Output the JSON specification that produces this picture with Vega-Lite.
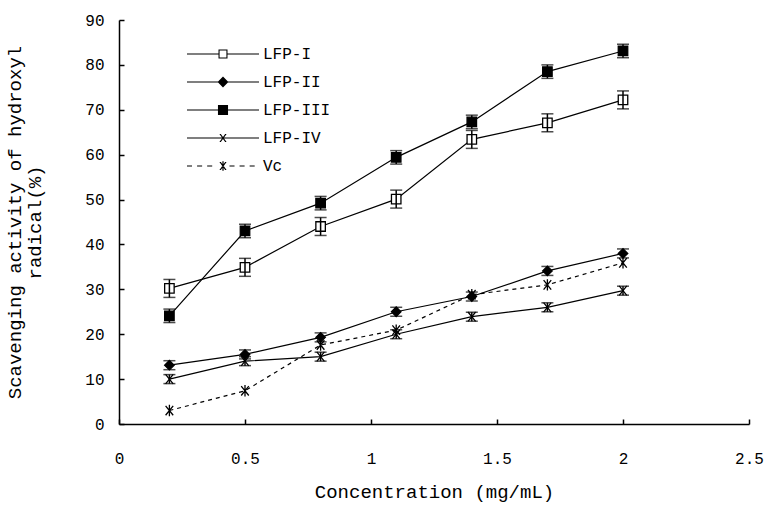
{
  "$schema": "https://vega.github.io/schema/vega-lite/v6.json",
  "width": 630,
  "height": 404,
  "autosize": {"type": "none"},
  "padding": {"left": 119, "top": 20, "right": 30, "bottom": 93},
  "background": "white",
  "config": {
    "view": {"stroke": null},
    "font": "Liberation Mono",
    "axis": {
      "grid": false,
      "domainColor": "black",
      "domainWidth": 1.5,
      "tickColor": "black",
      "tickWidth": 1.5,
      "tickSize": -5,
      "labelColor": "black",
      "labelFont": "Liberation Mono",
      "labelFontSize": 16,
      "labelFlush": false,
      "labelOverlap": false,
      "titleColor": "black",
      "titleFont": "Liberation Mono",
      "titleFontSize": 19,
      "titleFontWeight": "normal"
    }
  },
  "data": {
    "values": [
      {"series": "LFP-I", "conc": 0.2, "value": 30.2, "err": 2},
      {"series": "LFP-I", "conc": 0.5, "value": 34.9, "err": 2},
      {"series": "LFP-I", "conc": 0.8, "value": 44.0, "err": 2},
      {"series": "LFP-I", "conc": 1.1, "value": 50.1, "err": 2},
      {"series": "LFP-I", "conc": 1.4, "value": 63.4, "err": 2},
      {"series": "LFP-I", "conc": 1.7, "value": 67.1, "err": 2},
      {"series": "LFP-I", "conc": 2.0, "value": 72.2, "err": 2},
      {"series": "LFP-II", "conc": 0.2, "value": 13.1, "err": 1},
      {"series": "LFP-II", "conc": 0.5, "value": 15.5, "err": 1},
      {"series": "LFP-II", "conc": 0.8, "value": 19.3, "err": 1},
      {"series": "LFP-II", "conc": 1.1, "value": 25.0, "err": 1},
      {"series": "LFP-II", "conc": 1.4, "value": 28.4, "err": 1},
      {"series": "LFP-II", "conc": 1.7, "value": 34.1, "err": 1},
      {"series": "LFP-II", "conc": 2.0, "value": 38.0, "err": 1},
      {"series": "LFP-III", "conc": 0.2, "value": 24.1, "err": 1.5},
      {"series": "LFP-III", "conc": 0.5, "value": 43.0, "err": 1.5},
      {"series": "LFP-III", "conc": 0.8, "value": 49.2, "err": 1.5},
      {"series": "LFP-III", "conc": 1.1, "value": 59.4, "err": 1.5},
      {"series": "LFP-III", "conc": 1.4, "value": 67.3, "err": 1.5},
      {"series": "LFP-III", "conc": 1.7, "value": 78.5, "err": 1.5},
      {"series": "LFP-III", "conc": 2.0, "value": 83.1, "err": 1.5},
      {"series": "LFP-IV", "conc": 0.2, "value": 10.0, "err": 1},
      {"series": "LFP-IV", "conc": 0.5, "value": 14.0, "err": 1},
      {"series": "LFP-IV", "conc": 0.8, "value": 15.0, "err": 1},
      {"series": "LFP-IV", "conc": 1.1, "value": 20.0, "err": 1},
      {"series": "LFP-IV", "conc": 1.4, "value": 23.9, "err": 1},
      {"series": "LFP-IV", "conc": 1.7, "value": 26.0, "err": 1},
      {"series": "LFP-IV", "conc": 2.0, "value": 29.7, "err": 1},
      {"series": "Vc", "conc": 0.2, "value": 3.0, "err": 0},
      {"series": "Vc", "conc": 0.5, "value": 7.4, "err": 0},
      {"series": "Vc", "conc": 0.8, "value": 17.6, "err": 0},
      {"series": "Vc", "conc": 1.1, "value": 20.9, "err": 0},
      {"series": "Vc", "conc": 1.4, "value": 28.8, "err": 0},
      {"series": "Vc", "conc": 1.7, "value": 31.0, "err": 0},
      {"series": "Vc", "conc": 2.0, "value": 35.9, "err": 0}
    ]
  },
  "encoding": {
    "x": {
      "field": "conc",
      "type": "quantitative",
      "scale": {"domain": [0, 2.5], "nice": false, "zero": false},
      "axis": {
        "values": [0, 0.5, 1, 1.5, 2, 2.5],
        "format": "~g",
        "labelPadding": 31,
        "title": "Concentration (mg/mL)",
        "titlePadding": 16
      }
    },
    "y": {
      "field": "value",
      "type": "quantitative",
      "scale": {"domain": [0, 90], "nice": false},
      "axis": {
        "values": [0, 10, 20, 30, 40, 50, 60, 70, 80, 90],
        "labelPadding": 20,
        "title": ["Scavenging activity of hydroxyl", "radical(%)"],
        "titlePadding": 40,
        "titleLineHeight": 20
      }
    }
  },
  "resolve": {"scale": {"shape": "independent"}},
  "layer": [
    {
      "transform": [{"filter": "datum.series !== 'Vc'"}],
      "mark": {"type": "line", "color": "black", "strokeWidth": 1.2},
      "encoding": {
        "detail": {"field": "series"}
      }
    },
    {
      "transform": [{"filter": "datum.series === 'Vc'"}],
      "mark": {"type": "line", "color": "black", "strokeWidth": 1.2, "strokeDash": [4, 4]},
      "encoding": {}
    },
    {
      "mark": {"type": "point", "stroke": "black", "strokeWidth": 1.3, "opacity": 1, "size": 90},
      "encoding": {
        "fill": {
          "condition": {"test": "datum.series === 'LFP-I'", "value": "white"},
          "value": "black"
        },
        "shape": {
          "field": "series",
          "type": "nominal",
          "scale": {
            "domain": ["LFP-I", "LFP-II", "LFP-III", "LFP-IV", "Vc"],
            "range": ["square", "diamond", "square", "M-0.8,-1L0.8,1M-0.8,1L0.8,-1", "M-0.8,-1L0.8,1M-0.8,1L0.8,-1M0,-1.2V1.2"]
          },
          "legend": null
        }
      }
    },
    {
      "transform": [{"filter": "datum.err > 0"}],
      "mark": {"type": "errorbar", "color": "black", "thickness": 1.5, "ticks": {"size": 12, "thickness": 1.5, "color": "black"}},
      "encoding": {
        "y": {"field": "value", "type": "quantitative"},
        "yError": {"field": "err"}
      }
    },
    {
      "mark": {"type": "point", "filled": true, "color": "black", "opacity": 0, "size": 5184},
      "encoding": {
        "shape": {
          "field": "series",
          "type": "nominal",
          "scale": {
            "domain": ["LFP-I", "LFP-II", "LFP-III", "LFP-IV", "Vc"],
            "range": [
              "M-1,-0.017H-0.125V0.017H-1Z M0.125,-0.017H1V0.017H0.125Z M-0.125,-0.125H0.125V0.125H-0.125Z M-0.095,-0.095V0.095H0.095V-0.095Z",
              "M-1,-0.017H1V0.017H-1Z M0,-0.15L0.15,0L0,0.15L-0.15,0Z",
              "M-1,-0.017H1V0.017H-1Z M-0.14,-0.14H0.14V0.14H-0.14Z",
              "M-1,-0.017H1V0.017H-1Z M-0.1,-0.11L-0.06,-0.11L0.1,0.11L0.06,0.11Z M0.06,-0.11L0.1,-0.11L-0.06,0.11L-0.1,0.11Z",
              "M-1,-0.017H-0.86V0.017H-1Z M-0.72,-0.017H-0.58V0.017H-0.72Z M-0.44,-0.017H-0.3V0.017H-0.44Z M-0.1,-0.11L-0.06,-0.11L0.1,0.11L0.06,0.11Z M0.06,-0.11L0.1,-0.11L-0.06,0.11L-0.1,0.11Z M-0.017,-0.13H0.017V0.13H-0.017Z M0.18,-0.017H0.32V0.017H0.18Z M0.46,-0.017H0.6V0.017H0.46Z M0.74,-0.017H0.88V0.017H0.74Z"
            ]
          },
          "legend": {
            "title": null,
            "orient": "none",
            "legendX": 68,
            "legendY": 23,
            "padding": 0,
            "symbolSize": 5184,
            "clipHeight": 22,
            "rowPadding": 6,
            "labelFont": "Liberation Mono",
            "labelFontSize": 16,
            "labelColor": "black",
            "labelOffset": 4,
            "symbolOpacity": 1,
            "symbolFillColor": "black",
            "symbolStrokeWidth": 0
          }
        }
      }
    }
  ]
}
